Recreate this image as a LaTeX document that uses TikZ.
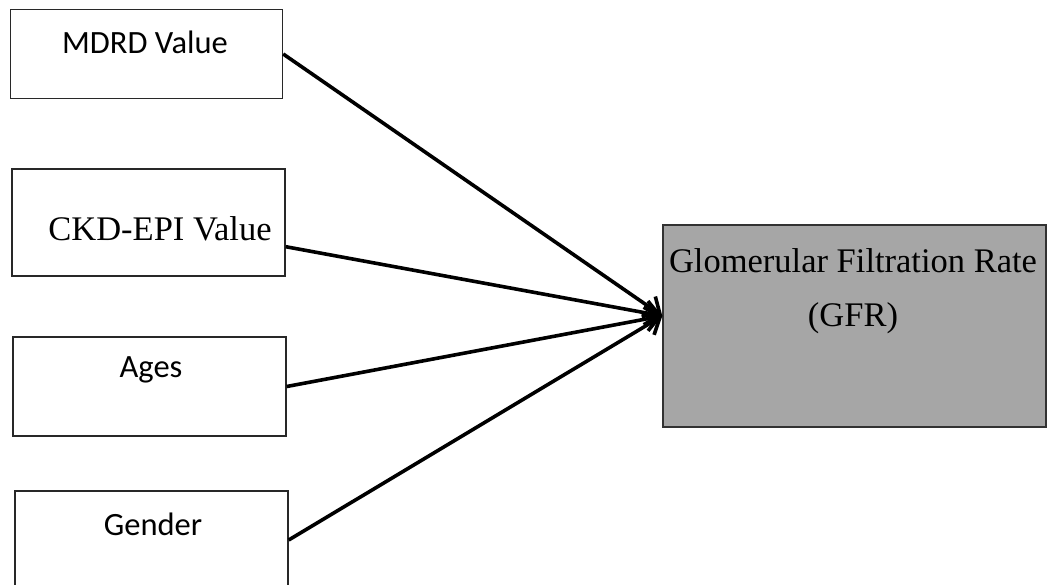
\documentclass[tikz,border=0pt]{standalone}
\usepackage{fontspec}
\setmainfont{Liberation Serif}
\newfontfamily\boxfont{Carlito}
\usetikzlibrary{arrows.meta}

\tikzset{
  inbox/.style={draw={rgb,255:red,40;green,40;blue,40}, line width=1.4pt, fill=white},
  gfrbox/.style={draw={rgb,255:red,50;green,50;blue,50}, line width=1.4pt, fill={rgb,255:red,166;green,166;blue,166}},
  sanslabel/.style={inner sep=0pt, font=\boxfont\fontsize{32.5}{36}\selectfont},
  seriflabel/.style={inner sep=0pt, font=\fontsize{34.5}{40}\selectfont},
  feed/.style={line width=3.6pt, -{Straight Barb[length=14pt,width=24pt,line width=3.6pt]}}
}

\begin{document}
\begin{tikzpicture}[x=1pt,y=1pt,yscale=-1,xscale=1]
\useasboundingbox (0,0) rectangle (1048,584);

% Box Nodes
\node [inbox, minimum width=272pt, minimum height=89pt] (mdrd) at (146.5,54) {};
\node [inbox, minimum width=273pt, minimum height=107pt] (ckd) at (148.5,222.5) {};
\node [inbox, minimum width=273pt, minimum height=99pt] (ages) at (149.5,386.5) {};
\node [inbox, minimum width=273pt, minimum height=98pt] (gender) at (151.5,540) {};
\node [gfrbox, minimum width=383pt, minimum height=202pt] (gfr) at (854.5,326) {};

% Text Node
\node [sanslabel] (mdrdtxt) at (145,42) {MDRD Value};
% Text Node
\node [seriflabel] (ckdtxt) at (160,229) {CKD-EPI Value};
% Text Node
\node [sanslabel] (agestxt) at (151,370) {Ages};
% Text Node
\node [sanslabel] (gendertxt) at (153,524) {Gender};
% Text Node
\node [seriflabel] (gfrtxt1) at (853,261) {Glomerular Filtration Rate};
% Text Node
\node [seriflabel] (gfrtxt2) at (853,318) {(GFR)};

% Connection
\draw [feed] (mdrd.east) -- (gfr.177.6);
% Connection
\draw [feed] (ckd.-10) -- (gfr.177.6);
% Connection
\draw [feed] (ages.east) -- (gfr.177.6);
% Connection
\draw [feed] (gender.east) -- (gfr.177.6);

\end{tikzpicture}
\end{document}
